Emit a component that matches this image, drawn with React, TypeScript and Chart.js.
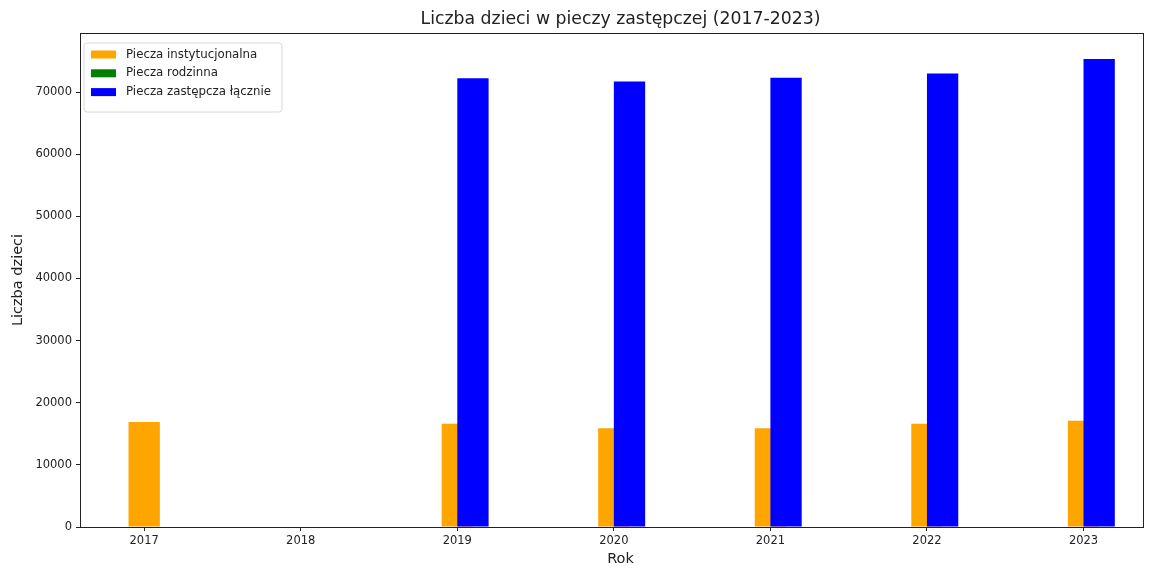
import React, { useEffect, useRef } from 'react';
import { Chart, registerables } from 'chart.js';

Chart.register(...registerables);

// ---- data ----
const years: number[] = [2017, 2018, 2019, 2020, 2021, 2022, 2023];
const instytucjonalna: (number | null)[] = [16900, null, 16600, 15900, 15900, 16600, 17100];
const rodzinna: (number | null)[] = [null, null, null, null, null, null, null];
const lacznie: (number | null)[] = [null, null, 72200, 71700, 72300, 73000, 75300];
const yTickValues: number[] = [0, 10000, 20000, 30000, 40000, 50000, 60000, 70000];
const seriesLabels: string[] = ['Piecza instytucjonalna', 'Piecza rodzinna', 'Piecza zastępcza łącznie'];
const seriesColors: string[] = ['#FFA500', '#008000', '#0000FF'];
const chartTitle = 'Liczba dzieci w pieczy zastępczej (2017-2023)';
const xTitle = 'Rok';
const yTitle = 'Liczba dzieci';

const blueShift = 0.1;
const FONT = "'DejaVu Sans', sans-serif";
const INK = '#222';

const framePlugin = {
  id: 'frameAndText',
  afterDraw(chart: any) {
    const { ctx, chartArea } = chart;
    const { left, right, top, bottom } = chartArea;
    ctx.save();
    ctx.strokeStyle = INK;
    ctx.lineWidth = 1;
    ctx.strokeRect(Math.round(left) + 0.5, Math.round(top) + 0.5, Math.round(right - left), Math.round(bottom - top));

    // title
    ctx.fillStyle = INK;
    ctx.font = `17.3px ${FONT}`;
    ctx.textAlign = 'center';
    ctx.textBaseline = 'middle';
    const cx = (left + right) / 2 + 9;
    ctx.fillText(chartTitle, cx, 20);

    // x title
    ctx.font = `14.5px ${FONT}`;
    ctx.fillText(xTitle, cx, 559);

    // y title
    ctx.save();
    ctx.translate(18, (top + bottom) / 2);
    ctx.rotate(-Math.PI / 2);
    ctx.fillText(yTitle, 0, 0);
    ctx.restore();

    // legend
    const lx = left + 4;
    const ly = top + 10;
    const lw = 198;
    const lh = 69;
    ctx.fillStyle = 'rgba(255,255,255,0.8)';
    ctx.strokeStyle = '#d8d8d8';
    ctx.lineWidth = 1;
    ctx.beginPath();
    const r = 3;
    ctx.moveTo(lx + r, ly);
    ctx.lineTo(lx + lw - r, ly);
    ctx.quadraticCurveTo(lx + lw, ly, lx + lw, ly + r);
    ctx.lineTo(lx + lw, ly + lh - r);
    ctx.quadraticCurveTo(lx + lw, ly + lh, lx + lw - r, ly + lh);
    ctx.lineTo(lx + r, ly + lh);
    ctx.quadraticCurveTo(lx, ly + lh, lx, ly + lh - r);
    ctx.lineTo(lx, ly + r);
    ctx.quadraticCurveTo(lx, ly, lx + r, ly);
    ctx.closePath();
    ctx.fill();
    ctx.stroke();

    ctx.font = `11.8px ${FONT}`;
    ctx.textAlign = 'left';
    ctx.textBaseline = 'middle';
    seriesLabels.forEach((lab, i) => {
      const rowY = ly + 11.5 + i * 18.8;
      ctx.fillStyle = seriesColors[i];
      ctx.fillRect(lx + 7, rowY - 4, 25, 8);
      ctx.fillStyle = INK;
      ctx.fillText(lab, lx + 42, rowY);
    });
    ctx.restore();
  },
};

export default function App() {
  const ref = useRef<HTMLCanvasElement | null>(null);

  useEffect(() => {
    document.body.style.margin = '0';
    if (!ref.current) return;
    const toPoints = (vals: (number | null)[], shift: number) =>
      years.map((y, i) => ({ x: y + shift, y: vals[i] }));

    const chart = new Chart(ref.current, {
      type: 'bar',
      data: {
        datasets: [
          {
            label: seriesLabels[0],
            data: toPoints(instytucjonalna, 0) as any,
            backgroundColor: seriesColors[0],
            borderWidth: 0,
            order: 3,
          },
          {
            label: seriesLabels[1],
            data: toPoints(rodzinna, 0) as any,
            backgroundColor: seriesColors[1],
            borderWidth: 0,
            order: 2,
          },
          {
            label: seriesLabels[2],
            data: toPoints(lacznie, blueShift) as any,
            backgroundColor: seriesColors[2],
            borderWidth: 0,
            order: 1,
          },
        ],
      },
      options: {
        responsive: false,
        animation: false,
        grouped: false,
        categoryPercentage: 2,
        barPercentage: 1,
        layout: { padding: { top: 33, right: 14, left: 0, bottom: 0 } },
        plugins: {
          legend: { display: false },
          title: { display: false },
          tooltip: { enabled: false },
        },
        scales: {
          x: {
            type: 'linear',
            min: 2016.59,
            max: 2023.38,
            offset: false,
            afterBuildTicks: (scale: any) => {
              scale.ticks = years.map((v) => ({ value: v }));
            },
            afterFit: (scale: any) => {
              scale.height = 41;
            },
            ticks: {
              color: INK,
              font: { family: FONT, size: 11.5 },
              padding: 3,
              maxRotation: 0,
              autoSkip: false,
              callback: (v: any) => String(v),
            },
            grid: {
              display: true,
              offset: false,
              drawOnChartArea: false,
              drawTicks: true,
              tickLength: 4,
              color: INK,
            },
            border: { display: false },
          },
          y: {
            type: 'linear',
            min: 0,
            max: 79500,
            afterBuildTicks: (scale: any) => {
              scale.ticks = yTickValues.map((v) => ({ value: v }));
            },
            afterFit: (scale: any) => {
              scale.width = 80;
            },
            ticks: {
              color: INK,
              font: { family: FONT, size: 11.5 },
              padding: 4,
              callback: (v: any) => String(v),
            },
            grid: {
              display: true,
              offset: false,
              drawOnChartArea: false,
              drawTicks: true,
              tickLength: 4,
              color: INK,
            },
            border: { display: false },
          },
        },
      } as any,
      plugins: [framePlugin],
    });
    return () => chart.destroy();
  }, []);

  return (
    <div style={{ width: 1157, height: 568, background: '#fff' }}>
      <canvas ref={ref} width={1157} height={568} />
    </div>
  );
}
